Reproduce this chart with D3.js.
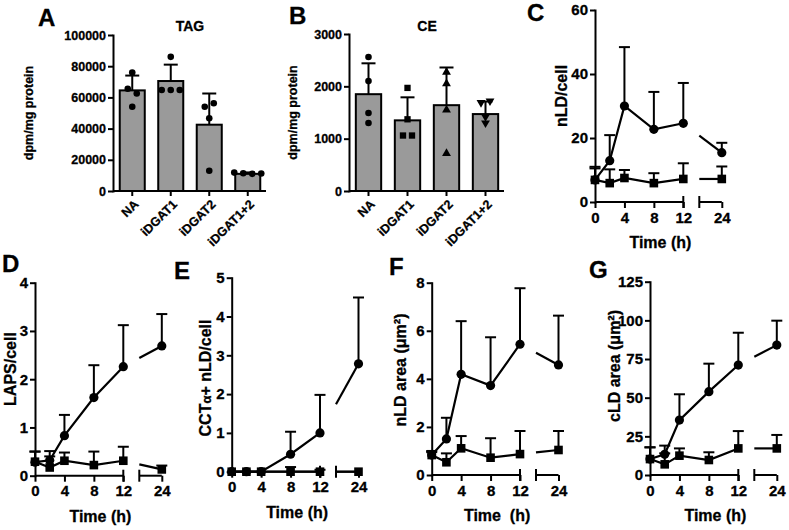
<!DOCTYPE html>
<html><head><meta charset="utf-8">
<script src="https://cdn.jsdelivr.net/npm/d3@7"></script>
<style>
body{margin:0;background:#fff}
svg text{font-family:"Liberation Sans",Arial,Helvetica,sans-serif;font-weight:bold;fill:#000;stroke:#000;stroke-width:0.3px}
</style></head><body>
<svg id="fig" width="789" height="530"></svg>
<script>
// ---------- DATA ----------
const groups = ["NA","iDGAT1","iDGAT2","iDGAT1+2"];
const tagMean = [64500, 70500, 42500, 11000];
const tagSD   = [9500, 10500, 20000, 900];
const tagPts  = [[76000,65500,62500,54000],[86000,64700,64700,64700],[13000,46600,54000,56200],[11800,11400,11000,11200]];
const tagTicks = [0,20000,40000,60000,80000,100000];

const ceMean = [1850, 1350, 1640, 1470];
const ceSD   = [590, 440, 720, 240];
const cePts  = [[2560,2100,1490,1300],[1970,1370,1060,1060],[2270,2050,1550,720],[1690,1720,1420,1300]];
const ceTicks = [0,1000,2000,3000];

const hours = [0,2,4,8,12,24];
const hourTicks1 = [0,4,8,12];
const hourTicks2 = [24];

// C: nLD/cell
const nldCirc = [6.9, 12.9, 30.0, 22.7, 24.6, 15.4];
const nldCircErr = [4.1, 8.0, 18.4, 11.7, 12.6, 3.1];
const nldSq = [6.9, 5.9, 7.5, 5.9, 7.2, 7.2];
const nldSqErr = [3.6, 4.3, 2.5, 3.1, 4.9, 3.9];
const nldTicks = [0,20,40,60];

// D: LAPS/cell
const lapsCirc = [0.28, 0.32, 0.83, 1.62, 2.26, 2.69];
const lapsCircErr = [0.22, 0.19, 0.43, 0.67, 0.86, 0.66];
const lapsSq = [0.29, 0.17, 0.31, 0.22, 0.31, 0.13];
const lapsSqErr = [0.21, 0.23, 0.17, 0.28, 0.29, 0.08];
const lapsTicks = [0,1,2,3,4];

// E: CCTa+ nLD/cell
const cctCirc = [0, 0, 0, 0.45, 1.0, 2.78];
const cctCircErr = [0, 0, 0, 0.58, 0.98, 1.71];
const cctSq = [0, 0, 0, 0, 0, 0];
const cctSqErr = [0, 0, 0, 0.12, 0.05, 0];
const cctTicks = [0,1,2,3,4,5];

// F: nLD area
const nareaCirc = [0.83, 1.5, 4.19, 3.72, 5.44, 4.58];
const nareaCircErr = [0.17, 0.88, 2.21, 2.01, 2.33, 2.05];
const nareaSq = [0.83, 0.53, 1.11, 0.72, 0.87, 1.04];
const nareaSqErr = [0.12, 0.37, 0.51, 0.81, 0.96, 0.79];
const nareaTicks = [0,2,4,6,8];

// G: cLD area
const careaCirc = [10.3, 13.4, 35.5, 53.9, 71.1, 84.0];
const careaCircErr = [7.6, 5.6, 16.7, 18.1, 20.9, 15.8];
const careaSq = [10.3, 6.9, 12.5, 9.7, 17.2, 17.2];
const careaSqErr = [7.6, 7.1, 4.7, 5.0, 11.2, 8.7];
const careaTicks = [0,25,50,75,100,125];

// ---------- DRAW ----------
const svg = d3.select("#fig");
const FONT = '"Liberation Sans",Arial,Helvetica,sans-serif';
const fmt = d3.format("d");

function styleAxis(sel, fs){
  sel.attr("font-family", FONT).attr("font-size", fs).attr("font-weight","bold");
  sel.selectAll("path.domain").attr("stroke","#000").attr("stroke-width",2).attr("stroke-linecap","square");
  sel.selectAll(".tick line").attr("stroke","#000").attr("stroke-width",2);
  sel.selectAll(".tick text").attr("fill","#000");
}

function letter(t, x, y){
  svg.append("text").attr("x",x).attr("y",y).attr("font-size",24).text(t);
}
function yLabel(node, cx, cy, fs){
  const t = svg.append("text").attr("transform",`translate(${cx},${cy}) rotate(-90)`)
    .attr("text-anchor","middle").attr("dy","0.36em").attr("font-size",fs);
  node(t);
  return t;
}

function swarmOffsets(vals, y, thresh, step){
  const idx = vals.map((v,i)=>i).sort((a,b)=>y(vals[a])-y(vals[b]));
  const clusters = [];
  let cur = [idx[0]];
  for(let k=1;k<idx.length;k++){
    const prev = idx[k-1], i = idx[k];
    if(Math.abs(y(vals[i])-y(vals[prev])) < thresh) cur.push(i); else {clusters.push(cur); cur=[i];}
  }
  clusters.push(cur);
  const off = new Array(vals.length).fill(0);
  clusters.forEach(c=>{
    c.sort((a,b)=>a-b);
    c.forEach((i,k)=>{ off[i] = (k-(c.length-1)/2)*step; });
  });
  return off;
}

function barPanel(cfg){
  const x = d3.scaleBand().domain(groups).range([cfg.x0, cfg.x1]).paddingInner(0.35).paddingOuter(0.175);
  const y = d3.scaleLinear().domain([0, cfg.yMax]).range([cfg.yBot, cfg.yTop]);
  const g = svg.append("g");
  g.selectAll("rect.bar").data(groups).join("rect")
    .attr("x", d=>x(d)).attr("width", x.bandwidth())
    .attr("y", (d,i)=>y(cfg.means[i])).attr("height",(d,i)=>y(0)-y(cfg.means[i]))
    .attr("fill","#9a9a9a").attr("stroke","#000").attr("stroke-width",2);
  groups.forEach((d,i)=>{
    const cx = x(d)+x.bandwidth()/2;
    const top = y(cfg.means[i]+cfg.sds[i]);
    g.append("line").attr("x1",cx).attr("x2",cx).attr("y1",y(cfg.means[i])).attr("y2",top).attr("stroke","#000").attr("stroke-width",2);
    g.append("line").attr("x1",cx-7).attr("x2",cx+7).attr("y1",top).attr("y2",top).attr("stroke","#000").attr("stroke-width",2);
  });
  groups.forEach((d,i)=>{
    const cx = x(d)+x.bandwidth()/2;
    const vals = cfg.pts[i];
    const off = swarmOffsets(vals, y, 5.5, 9);
    const sym = d3.symbol().type(cfg.symbols[i].type).size(cfg.symbols[i].size);
    vals.forEach((v,k)=>{
      g.append("path").attr("d", sym())
        .attr("transform",`translate(${cx+off[k]},${y(v)}) rotate(${cfg.symbols[i].rot||0})`)
        .attr("fill","#000");
    });
  });
  const ya = g.append("g").attr("transform",`translate(${cfg.x0},0)`)
    .call(d3.axisLeft(y).tickValues(cfg.ticks).tickFormat(fmt).tickSize(5).tickSizeOuter(0).tickPadding(2));
  styleAxis(ya, 12.5);
  g.append("line").attr("x1",cfg.x0).attr("x2",cfg.x1-1).attr("y1",y(0)).attr("y2",y(0)).attr("stroke","#000").attr("stroke-width",2);
  const xa = g.append("g").attr("transform",`translate(0,${y(0)})`)
    .call(d3.axisBottom(x).tickSize(5).tickSizeOuter(0).tickFormat(""));
  xa.select("path.domain").remove();
  styleAxis(xa, 12.5);
  groups.forEach(d=>{
    const cx = x(d)+x.bandwidth()/2;
    g.append("text").attr("transform",`translate(${cx+4},${y(0)+11}) rotate(-45)`)
      .attr("text-anchor","end").attr("dy","0.35em").attr("font-size",12.5).text(d);
  });
  g.append("text").attr("x",(cfg.x0+cfg.x1)/2).attr("y",cfg.titleY).attr("text-anchor","middle").attr("font-size",14).text(cfg.title);
  yLabel(t=>t.text("dpm/mg protein"), cfg.labX, (cfg.yTop+cfg.yBot)/2, 12.5);
}

function timePanel(cfg){
  const s1 = d3.scaleLinear().domain([0,12]).range([cfg.x0, cfg.x0+88.3]);
  const s2 = d3.scaleLinear().domain([21,24]).range([cfg.x0+104.3, cfg.x0+126.8]);
  const xs = h => h<=12 ? s1(h) : s2(h);
  const y = d3.scaleLinear().domain([0,cfg.yMax]).range([cfg.yBot, cfg.yTop]);
  const g = svg.append("g");
  const yb = y(0);

  const series = [
    {m:cfg.circ, e:cfg.circErr, type:"circle"},
    {m:cfg.sq, e:cfg.sqErr, type:"square"}
  ];
  series.forEach(s=>{
    const pts = hours.map((h,i)=>[xs(h), y(s.m[i])]);
    const first = pts.filter((p,i)=>hours[i]<=12);
    g.append("path").attr("d", d3.line()(first)).attr("fill","none").attr("stroke","#000").attr("stroke-width",2.2);
    const p12 = pts[hours.indexOf(12)], p24 = pts[hours.indexOf(24)];
    const xsStart = s2(21);
    const t = (xsStart - p12[0])/(p24[0]-p12[0]);
    const pStart = [xsStart, p12[1] + t*(p24[1]-p12[1])];
    g.append("path").attr("d", d3.line()([pStart, p24])).attr("fill","none").attr("stroke","#000").attr("stroke-width",2.2);
    hours.forEach((h,i)=>{
      if(s.e[i] <= 0) return;
      const cx = xs(h), top = y(s.m[i]+s.e[i]);
      g.append("line").attr("x1",cx).attr("x2",cx).attr("y1",y(s.m[i])).attr("y2",top).attr("stroke","#000").attr("stroke-width",2);
      g.append("line").attr("x1",cx-5.5).attr("x2",cx+5.5).attr("y1",top).attr("y2",top).attr("stroke","#000").attr("stroke-width",2);
    });
  });
  series.forEach(s=>{
    hours.forEach((h,i)=>{
      const cx = xs(h), cy = y(s.m[i]);
      if(s.type==="circle") g.append("circle").attr("cx",cx).attr("cy",cy).attr("r",4.6).attr("fill","#000");
      else g.append("rect").attr("x",cx-4.3).attr("y",cy-4.3).attr("width",8.6).attr("height",8.6).attr("fill","#000");
    });
  });

  const ya = g.append("g").attr("transform",`translate(${cfg.x0},0)`)
    .call(d3.axisLeft(y).tickValues(cfg.yTicks).tickFormat(fmt).tickSize(5).tickSizeOuter(0).tickPadding(2));
  styleAxis(ya, 15);
  [[s1,hourTicks1],[s2,hourTicks2]].forEach(([sc,tv])=>{
    const r = sc.range();
    g.append("line").attr("x1",r[0]).attr("x2",r[1]).attr("y1",yb).attr("y2",yb).attr("stroke","#000").attr("stroke-width",2);
    const xa = g.append("g").attr("transform",`translate(0,${yb})`)
      .call(d3.axisBottom(sc).tickValues(tv).tickFormat(fmt).tickSize(6).tickSizeOuter(0).tickPadding(4));
    xa.select("path.domain").remove();
    styleAxis(xa, 15);
  });
  [s1(12), s2(21)].forEach(xv=>{
    g.append("line").attr("x1",xv).attr("x2",xv).attr("y1",yb-6).attr("y2",yb+6).attr("stroke","#000").attr("stroke-width",2);
  });
  g.append("text").attr("x",(cfg.x0+cfg.x0+126.8)/2+2).attr("y",yb+46).attr("text-anchor","middle")
    .attr("font-size",16).style("white-space","pre").text(cfg.timeLabel);
  yLabel(cfg.ylabel, cfg.labX, cfg.labY, 16);
}

letter("A", 38, 26); letter("B", 289, 24); letter("C", 527, 21);
letter("D", 2, 272); letter("E", 174, 279); letter("F", 389, 275); letter("G", 589, 278);

barPanel({x0:113, x1:267, yTop:35, yBot:191, yMax:100000, ticks:tagTicks, means:tagMean, sds:tagSD, pts:tagPts,
  symbols: groups.map(()=>({type:d3.symbolCircle, size:34})), title:"TAG", titleY:31, labX:28});
barPanel({x0:349, x1:505, yTop:34, yBot:191, yMax:3000, ticks:ceTicks, means:ceMean, sds:ceSD, pts:cePts,
  symbols:[{type:d3.symbolCircle,size:34},{type:d3.symbolSquare,size:40},{type:d3.symbolTriangle,size:34},{type:d3.symbolTriangle,size:34,rot:180}],
  title:"CE", titleY:31, labX:292});

timePanel({x0:595, yTop:10, yBot:202, yMax:60, yTicks:nldTicks, circ:nldCirc, circErr:nldCircErr, sq:nldSq, sqErr:nldSqErr,
  ylabel:t=>t.text("nLD/cell"), labX:561, labY:96, timeLabel:"Time (h)"});
timePanel({x0:35, yTop:282.7, yBot:475.7, yMax:4, yTicks:lapsTicks, circ:lapsCirc, circErr:lapsCircErr, sq:lapsSq, sqErr:lapsSqErr,
  ylabel:t=>t.text("LAPS/cell"), labX:10, labY:369, timeLabel:"Time (h)"});
timePanel({x0:231.7, yTop:277.7, yBot:471.7, yMax:5, yTicks:cctTicks, circ:cctCirc, circErr:cctCircErr, sq:cctSq, sqErr:cctSqErr,
  ylabel:t=>{t.append("tspan").text("CCT"); t.append("tspan").attr("font-size",13).text("α"); t.append("tspan").text("+ nLD/cell");},
  labX:205, labY:378, timeLabel:"Time (h)"});
timePanel({x0:431.7, yTop:282.7, yBot:475, yMax:8, yTicks:nareaTicks, circ:nareaCirc, circErr:nareaCircErr, sq:nareaSq, sqErr:nareaSqErr,
  ylabel:t=>t.text("nLD area (μm²)"), labX:400, labY:370, timeLabel:"Time  (h)"});
timePanel({x0:650, yTop:281.7, yBot:475, yMax:125, yTicks:careaTicks, circ:careaCirc, circErr:careaCircErr, sq:careaSq, sqErr:careaSqErr,
  ylabel:t=>t.text("cLD area (μm²)"), labX:614, labY:366, timeLabel:"Time (h)"});
</script>
</body></html>
